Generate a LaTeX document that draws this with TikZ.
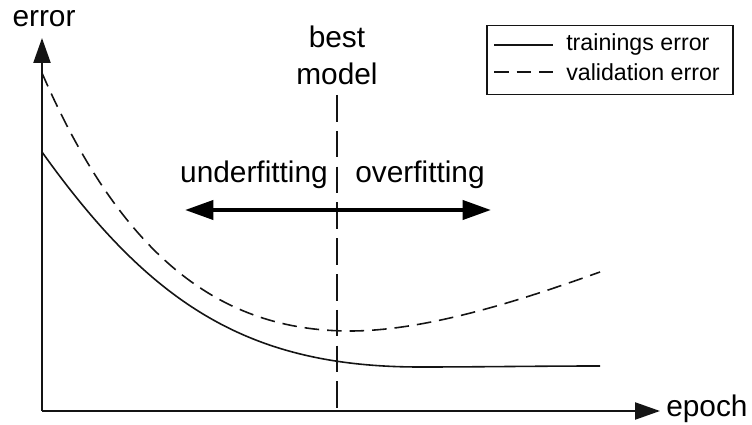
\documentclass[tikz,border=0pt]{standalone}
\usepackage{fontspec}
\setmainfont{Liberation Sans}
\usepackage{xcolor}
\usepackage{tikz}
\usetikzlibrary{arrows.meta,positioning}
\definecolor{inkgray}{RGB}{20, 20, 20}

\begin{document}
\begin{tikzpicture}[
    x=0.0265cm, y=-0.0265cm,
    axis/.style={-{Triangle[length=0.66cm,width=0.45cm]},line width=1.6pt,inkgray},
    curve/.style={line width=1.2pt,inkgray},
    dashcurve/.style={curve, dash pattern=on 11pt off 6pt},
    label/.style={font=\fontsize{22.5}{26}\selectfont, inner sep=0pt},
    legendtext/.style={font=\fontsize{17.5}{20}\selectfont, anchor=west, inner sep=0pt},
    fitarrow/.style={{Triangle[length=0.75cm,width=0.5cm]}-{Triangle[length=0.75cm,width=0.5cm]},line width=3.2pt,black}
]
    \useasboundingbox (0,0) rectangle (752,425);

    % Axes
    \coordinate (origin) at (42,411);
    \coordinate (ytip) at (42,38);
    \coordinate (xtip) at (660,411);
    \draw[axis] (origin) -- (ytip);
    \draw[axis] (origin) -- (xtip);
    \node[label] (error) at (44,19) {error};
    \node[label, anchor=west] (epoch) at (666,409) {epoch};

    % Best model
    \node[label] (best) at (337,37) {best};
    \node[label] (model) at (337,74) {model};
    \coordinate (bestbottom) at (337,411);
    \draw[curve, dash pattern=on 20pt off 7pt] (337,95) -- (bestbottom);

    % Fitting regions
    \node[label] (under) at (254,175) {underfitting};
    \node[label] (over) at (420,175) {overfitting};
    \coordinate (left) at (185,210);
    \coordinate (right) at (491,210);
    \draw[fitarrow] (left) -- (right);

    % Curves
    \draw[curve] (42,152) .. controls (152,306) and (250,367) .. (420,367)
        .. controls (480,367) and (540,366) .. (600,366);
    \draw[dashcurve] (42,73) .. controls (122,257) and (220,331) .. (350,331)
        .. controls (430,331) and (530,297) .. (600,272);

    % Legend
    \node[draw=inkgray, line width=0.8pt, inner sep=0pt,
          minimum width=6.52cm, minimum height=1.85cm] (legend) at (610,60) {};
    \draw[curve] (494,45) -- (553,45);
    \draw[dashcurve] (494,72) -- (553,72);
    \node[legendtext] (train) at (566,45) {trainings error};
    \node[legendtext] (valid) at (566,72) {validation error};
\end{tikzpicture}
\end{document}
